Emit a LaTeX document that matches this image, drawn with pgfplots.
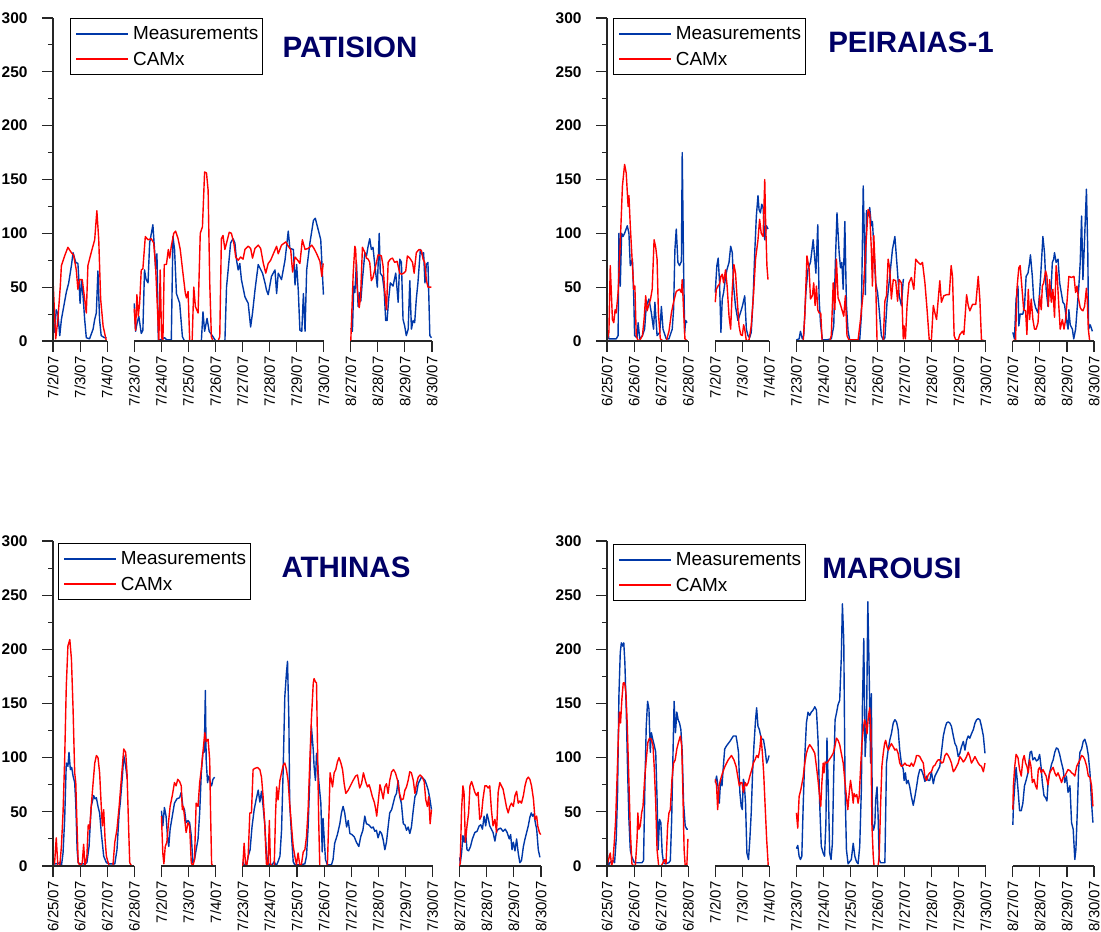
\documentclass[border=0pt]{standalone}
\usepackage{fontspec}
\setmainfont{Liberation Sans}
\usepackage{pgfplots}
\pgfplotsset{compat=1.18}
\definecolor{mblue}{RGB}{0,56,168}
\definecolor{navyt}{RGB}{0,0,102}
\tikzset{
 axisline/.style={draw=black!85, line width=1.2bp},
 blueline/.style={draw=mblue, line width=1.4bp, line join=round},
 redline/.style={draw=red, line width=1.4bp, line join=round},
}
\pgfplotsset{
 panel/.style={
  scale only axis, clip=false, anchor=south west,
  ymin=0, ymax=300, ytick={0,50,...,300}, minor y tick num=1,
  axis line style={draw=none},
  tick align=outside, ytick pos=left, xtick pos=bottom,
  major tick length=11bp, minor tick length=5bp,
  tick style={black!85, line width=1.1bp},
  yticklabel style={font=\bfseries\fontsize{15.5}{15.5}\selectfont},
  yticklabel shift=11bp, xticklabel shift=1bp,
  xticklabel style={rotate=90, anchor=east, font=\fontsize{15}{15}\selectfont},
  /pgf/number format/assume math mode=true,
  unbounded coords=jump,
  legend cell align=left,
  legend image code/.code={\path (0bp,0bp); \draw[##1, line width=1.7bp] (3bp,0bp) -- (55bp,0bp);},
  legend style={anchor=north west, draw=black, fill=white,
    font=\fontsize{19}{19}\selectfont, inner xsep=2bp, inner ysep=6bp, row sep=7bp,
    /tikz/every odd column/.append style={column sep=2bp}},
 },
}
\begin{document}
\begin{tikzpicture}[x=1bp,y=1bp]
\path[use as bounding box] (0,0) rectangle (1101,932);

% ---------------- PATISION ----------------
\begin{axis}[panel, at={(53bp,591bp)}, width=379bp, height=323bp, xmin=0, xmax=14,
  xtick={0,...,14},
  xticklabels={7/2/07,7/3/07,7/4/07,7/23/07,7/24/07,7/25/07,7/26/07,7/27/07,7/28/07,7/29/07,7/30/07,8/27/07,8/28/07,8/29/07,8/30/07},
  legend style={at={(0.045,1)}, line width=1bp}]
\addplot[blueline, no marks] coordinates {
(0,20)(0.06,8)(0.12,29)(0.18,25)(0.25,5)(0.31,20)(0.49,45)(0.58,54)(0.68,70)(0.74,82)(0.84,73)(0.92,72)(0.96,55)(1.0,35)(1.05,56)(1.11,42)(1.17,20)(1.23,3)(1.35,2)(1.48,11)(1.54,20)(1.6,26)(1.66,65)(1.72,20)(1.78,5)(1.9,3)(1.98,3)
(2.5,nan)
(3.0,35)(3.05,9)(3.1,16)(3.17,23)(3.26,7)(3.32,10)(3.38,66)(3.44,57)(3.51,54)(3.57,91)(3.69,108)(3.75,85)(3.79,67)(3.84,81)(3.89,1)(3.96,1)(4.12,3)(4.21,1)(4.37,1)(4.43,97)(4.49,85)(4.56,44)(4.68,35)(4.78,4)(4.86,0)(5.48,0)(5.54,27)(5.6,9)(5.69,21)(5.77,9)(5.91,4)(6.01,0)(6.35,0)(6.41,50)(6.47,66)(6.56,91)(6.65,95)(6.72,91)(6.78,75)(6.84,66)(6.9,72)(6.96,57)(7.09,41)(7.21,35)(7.3,13)(7.37,26)(7.46,47)(7.58,71)(7.74,63)(7.83,54)(7.89,47)(7.95,43)(8.07,60)(8.2,66)(8.26,44)(8.32,63)(8.44,57)(8.57,75)(8.69,102)(8.75,86)(8.88,85)(8.94,52)(9.0,71)(9.06,47)(9.12,10)(9.19,9)(9.25,44)(9.31,9)(9.37,66)(9.49,91)(9.62,112)(9.69,114)(9.8,103)(9.89,94)(9.99,43)
(10.5,nan)
(11.0,12)(11.06,9)(11.11,51)(11.15,45)(11.21,73)(11.27,32)(11.33,45)(11.37,37)(11.43,57)(11.52,82)(11.58,79)(11.64,88)(11.7,95)(11.76,85)(11.82,87)(11.89,70)(11.95,57)(11.98,50)(12.05,100)(12.09,63)(12.17,60)(12.23,48)(12.29,19)(12.34,19)(12.4,39)(12.46,54)(12.56,51)(12.66,63)(12.75,36)(12.81,76)(12.87,73)(12.93,20)(12.99,14)(13.05,5)(13.12,11)(13.18,56)(13.24,11)(13.3,19)(13.36,17)(13.42,39)(13.48,54)(13.57,85)(13.64,80)(13.69,82)(13.74,54)(13.79,71)(13.85,73)(13.92,5)(13.98,3)
};
\addplot[redline, no marks] coordinates {
(0,57)(0.1,2)(0.18,20)(0.27,51)(0.31,70)(0.43,79)(0.55,87)(0.68,82)(0.76,80)(0.86,66)(0.92,48)(0.98,57)(1.08,57)(1.17,39)(1.23,26)(1.29,70)(1.41,82)(1.54,94)(1.62,121)(1.69,94)(1.76,39)(1.85,14)(1.97,0)
(2.5,nan)
(3.0,30)(3.05,10)(3.1,43)(3.15,23)(3.2,35)(3.26,66)(3.32,67)(3.41,97)(3.51,94)(3.63,95)(3.72,91)(3.79,69)(3.86,29)(3.91,0)(3.96,66)(4.01,4)(4.06,0)(4.11,71)(4.19,71)(4.26,85)(4.31,77)(4.37,88)(4.46,100)(4.53,102)(4.62,95)(4.7,85)(4.8,63)(4.89,44)(4.93,40)(4.99,46)(5.05,0)(5.14,0)(5.2,50)(5.26,32)(5.36,26)(5.44,100)(5.52,106)(5.6,157)(5.67,156)(5.73,140)(5.79,54)(5.85,4)(5.91,0)(6.1,0)(6.16,4)(6.22,95)(6.28,98)(6.35,85)(6.41,91)(6.51,101)(6.59,100)(6.68,91)(6.75,78)(6.84,75)(6.93,78)(7.02,76)(7.09,85)(7.21,88)(7.3,86)(7.37,77)(7.46,86)(7.58,89)(7.67,86)(7.77,72)(7.86,63)(7.95,72)(8.04,75)(8.14,81)(8.26,88)(8.32,81)(8.44,89)(8.6,92)(8.69,88)(8.78,85)(8.85,64)(8.94,78)(9.04,75)(9.12,72)(9.21,94)(9.31,85)(9.43,86)(9.56,89)(9.64,86)(9.74,81)(9.86,74)(9.93,60)(9.98,72)
(10.5,nan)
(11,0)(11.09,63)(11.15,88)(11.18,85)(11.23,51)(11.31,31)(11.36,40)(11.43,87)(11.52,82)(11.58,77)(11.64,76)(11.7,73)(11.76,56)(11.82,59)(11.92,70)(12.01,80)(12.13,79)(12.19,70)(12.25,48)(12.32,29)(12.38,73)(12.46,76)(12.54,77)(12.62,73)(12.71,74)(12.81,63)(12.87,62)(12.96,63)(13.03,65)(13.09,79)(13.18,77)(13.28,73)(13.34,63)(13.42,82)(13.52,85)(13.61,84)(13.67,76)(13.73,73)(13.79,57)(13.85,50)(13.98,50)
};
\legend{Measurements,CAMx}
\draw[axisline] (axis cs:0,0) -- (axis cs:0,300);
\draw[axisline] (axis cs:0,0) -- (axis cs:2,0);
\draw[axisline] (axis cs:3,0) -- (axis cs:10,0);
\draw[axisline] (axis cs:11,0) -- (axis cs:14,0);
\end{axis}

% ---------------- PEIRAIAS-1 ----------------
\begin{axis}[panel, at={(607bp,591bp)}, width=487bp, height=323bp, xmin=0, xmax=18,
  xtick={0,...,18},
  xticklabels={6/25/07,6/26/07,6/27/07,6/28/07,7/2/07,7/3/07,7/4/07,7/23/07,7/24/07,7/25/07,7/26/07,7/27/07,7/28/07,7/29/07,7/30/07,8/27/07,8/28/07,8/29/07,8/30/07},
  legend style={at={(0.012,1.0)}, line width=1bp}]
\addplot[blueline, no marks] coordinates {
(0,2)(0.04,8)(0.07,2)(0.16,2)(0.34,2)(0.41,5)(0.44,100)(0.49,51)(0.54,100)(0.59,97)(0.65,100)(0.75,107)(0.81,100)(0.86,70)(0.94,76)(0.99,39)(1.02,5)(1.11,3)(1.15,17)(1.21,2)(1.31,5)(1.39,11)(1.45,32)(1.55,39)(1.64,26)(1.72,11)(1.77,36)(1.85,5)(1.95,8)(2.01,32)(2.07,11)(2.19,2)(2.29,2)(2.41,11)(2.46,29)(2.51,85)(2.56,104)(2.62,73)(2.68,70)(2.75,74)(2.78,175)(2.83,70)(2.87,8)(2.91,19)(2.96,17)
(3.5,nan)
(4,45)(4.06,70)(4.11,77)(4.16,54)(4.21,8)(4.26,39)(4.31,45)(4.37,57)(4.43,66)(4.51,73)(4.57,88)(4.63,82)(4.68,51)(4.75,32)(4.84,19)(4.93,26)(5.0,32)(5.09,42)(5.15,11)(5.21,5)(5.27,3)(5.33,8)(5.4,39)(5.46,82)(5.52,116)(5.58,135)(5.62,122)(5.67,119)(5.72,127)(5.77,124)(5.83,94)(5.89,107)(5.95,104)
(6.5,nan)
(7,1)(7.1,2)(7.15,9)(7.22,2)(7.27,5)(7.35,45)(7.43,67)(7.52,73)(7.62,94)(7.68,76)(7.72,63)(7.79,108)(7.84,39)(7.89,17)(7.96,1)(8.11,1)(8.29,2)(8.38,14)(8.44,73)(8.5,119)(8.58,82)(8.63,68)(8.68,73)(8.73,48)(8.79,111)(8.85,33)(8.91,9)(8.97,1)(9.34,1)(9.4,23)(9.47,144)(9.52,85)(9.55,43)(9.59,121)(9.65,116)(9.71,124)(9.77,107)(9.81,111)(9.86,88)(9.93,54)(10.0,45)(10.06,29)(10.14,5)(10.21,1)(10.27,3)(10.35,36)(10.45,60)(10.55,85)(10.64,97)(10.72,70)(10.8,42)(10.88,33)(10.95,57)(10.98,57)
(14.5,nan)
(15,8)(15.06,2)(15.12,39)(15.19,51)(15.22,14)(15.27,25)(15.37,25)(15.43,32)(15.49,60)(15.56,63)(15.62,73)(15.65,80)(15.72,60)(15.77,39)(15.84,31)(15.93,26)(15.99,45)(16.05,70)(16.11,97)(16.17,82)(16.23,48)(16.3,32)(16.33,45)(16.4,42)(16.46,73)(16.51,76)(16.54,82)(16.6,73)(16.67,76)(16.73,54)(16.79,45)(16.85,36)(16.91,34)(16.98,20)(17.04,11)(17.07,29)(17.12,15)(17.2,11)(17.25,2)(17.32,11)(17.37,28)(17.44,51)(17.49,73)(17.54,116)(17.59,57)(17.65,94)(17.72,141)(17.77,82)(17.8,11)(17.86,15)(17.94,9)
};
\addplot[redline, no marks] coordinates {
(0,0)(0.07,8)(0.12,70)(0.2,20)(0.25,17)(0.3,29)(0.34,26)(0.41,45)(0.49,91)(0.57,144)(0.65,164)(0.71,156)(0.78,125)(0.81,135)(0.86,107)(0.94,70)(0.99,48)(1.03,51)(1.08,5)(1.15,0)(1.22,1)(1.31,5)(1.37,20)(1.43,42)(1.48,28)(1.55,34)(1.61,39)(1.67,48)(1.74,94)(1.8,87)(1.85,76)(1.9,26)(1.97,2)(2.07,0)(2.19,0)(2.29,9)(2.38,26)(2.46,36)(2.56,46)(2.68,48)(2.75,45)(2.78,57)(2.83,29)(2.88,2)(2.96,0)
(3.5,nan)
(4,36)(4.04,48)(4.1,51)(4.16,53)(4.21,60)(4.26,62)(4.31,54)(4.38,66)(4.44,51)(4.51,23)(4.57,11)(4.63,48)(4.69,71)(4.75,63)(4.81,39)(4.88,14)(4.94,6)(5.0,5)(5.05,15)(5.09,11)(5.15,0)(5.25,1)(5.33,14)(5.42,45)(5.49,76)(5.58,94)(5.64,113)(5.7,100)(5.77,97)(5.83,150)(5.86,113)(5.91,70)(5.95,57)
(6.5,nan)
(7,0)(7.25,0)(7.31,23)(7.39,79)(7.47,67)(7.52,39)(7.59,42)(7.64,54)(7.69,33)(7.74,51)(7.79,29)(7.84,26)(7.9,26)(7.95,0)(8.23,0)(8.29,5)(8.36,54)(8.42,29)(8.48,76)(8.54,40)(8.6,36)(8.66,31)(8.75,23)(8.81,42)(8.87,5)(8.94,1)(9.28,1)(9.37,20)(9.47,45)(9.56,85)(9.65,122)(9.71,119)(9.77,85)(9.81,51)(9.86,98)(9.93,57)(9.98,0)(10.21,0)(10.27,37)(10.33,42)(10.39,76)(10.45,67)(10.51,39)(10.58,57)(10.67,56)(10.74,37)(10.8,57)(10.88,54)(10.95,2)(10.98,14)(11.03,2)(11.09,33)(11.16,54)(11.25,59)(11.34,48)(11.41,76)(11.5,73)(11.59,71)(11.66,73)(11.75,54)(11.83,29)(11.91,1)(11.99,1)(12.06,33)(12.12,26)(12.18,20)(12.3,56)(12.36,36)(12.45,42)(12.55,43)(12.65,43)(12.72,70)(12.77,60)(12.83,5)(12.89,1)(12.98,1)(13.04,6)(13.14,9)(13.19,6)(13.29,43)(13.35,33)(13.41,28)(13.51,34)(13.63,34)(13.72,60)(13.78,39)(13.84,1)(14.0,0)
(14.5,nan)
(15,0)(15.1,1)(15.15,48)(15.22,68)(15.27,70)(15.35,45)(15.4,29)(15.47,28)(15.52,6)(15.57,48)(15.62,20)(15.68,39)(15.74,20)(15.8,11)(15.86,11)(15.93,17)(15.99,42)(16.05,29)(16.09,51)(16.14,54)(16.21,65)(16.26,60)(16.31,32)(16.36,57)(16.42,36)(16.48,48)(16.54,22)(16.6,70)(16.64,60)(16.7,32)(16.75,11)(16.83,20)(16.89,11)(16.95,20)(17.01,39)(17.07,60)(17.16,59)(17.26,60)(17.32,45)(17.37,51)(17.43,39)(17.49,31)(17.54,29)(17.59,28)(17.65,32)(17.72,49)(17.75,39)(17.79,11)(17.84,0)(17.94,0)
};
\legend{Measurements,CAMx}
\draw[axisline] (axis cs:0,0) -- (axis cs:0,300);
\draw[axisline] (axis cs:0,0) -- (axis cs:3,0);
\draw[axisline] (axis cs:4,0) -- (axis cs:6,0);
\draw[axisline] (axis cs:7,0) -- (axis cs:14,0);
\draw[axisline] (axis cs:15,0) -- (axis cs:18,0);
\end{axis}

% ---------------- ATHINAS ----------------
\begin{axis}[panel, at={(53bp,66bp)}, width=488bp, height=325bp, xmin=0, xmax=18,
  xtick={0,...,18},
  xticklabels={6/25/07,6/26/07,6/27/07,6/28/07,7/2/07,7/3/07,7/4/07,7/23/07,7/24/07,7/25/07,7/26/07,7/27/07,7/28/07,7/29/07,7/30/07,8/27/07,8/28/07,8/29/07,8/30/07},
  legend style={at={(0.01,0.994)}, line width=1bp}]
\addplot[blueline, no marks] coordinates {
(0,2)(0.12,2)(0.25,3)(0.31,0)(0.37,12)(0.43,43)(0.49,95)(0.55,92)(0.59,105)(0.64,89)(0.69,91)(0.74,83)(0.8,77)(0.84,58)(0.89,15)(0.93,3)(1.01,2)(1.17,2)(1.25,3)(1.33,18)(1.41,55)(1.5,65)(1.55,62)(1.6,63)(1.66,55)(1.72,49)(1.78,31)(1.87,9)(1.97,3)(2.09,2)(2.28,2)(2.36,15)(2.44,49)(2.48,58)(2.56,83)(2.61,102)(2.68,92)(2.74,80)
(3.5,nan)
(4,51)(4.05,37)(4.11,54)(4.17,46)(4.23,25)(4.27,18)(4.32,34)(4.4,46)(4.48,58)(4.57,62)(4.67,63)(4.73,68)(4.79,55)(4.85,52)(4.91,40)(4.98,42)(5.04,40)(5.1,28)(5.16,3)(5.22,6)(5.28,15)(5.35,25)(5.41,49)(5.47,86)(5.53,105)(5.58,105)(5.62,162)(5.65,98)(5.7,77)(5.75,83)(5.8,77)(5.85,74)(5.9,80)(5.96,82)
(6.5,nan)
(7,4)(7.07,0)(7.15,2)(7.2,9)(7.27,15)(7.34,36)(7.42,52)(7.49,61)(7.57,70)(7.63,59)(7.69,69)(7.75,55)(7.81,39)(7.87,13)(7.93,1)(8.01,2)(8.08,1)(8.16,4)(8.23,0)(8.3,4)(8.37,9)(8.43,33)(8.49,89)(8.55,156)(8.61,178)(8.65,189)(8.7,135)(8.73,58)(8.8,27)(8.86,4)(8.92,1)(9.1,1)(9.29,2)(9.35,9)(9.41,36)(9.47,79)(9.53,129)(9.6,107)(9.63,92)(9.68,79)(9.72,104)(9.76,95)(9.8,79)(9.88,58)(9.93,13)(9.96,44)(10.0,27)(10.05,6)(10.12,1)(10.27,1)(10.33,6)(10.39,21)(10.49,29)(10.58,39)(10.64,49)(10.7,55)(10.76,49)(10.83,36)(10.89,42)(10.95,30)(11.03,29)(11.11,27)(11.19,22)(11.28,18)(11.35,27)(11.43,33)(11.5,46)(11.56,39)(11.65,38)(11.75,35)(11.81,36)(11.87,32)(11.93,33)(11.99,26)(12.06,32)(12.12,30)(12.18,24)(12.24,15)(12.3,22)(12.36,36)(12.42,49)(12.49,52)(12.55,58)(12.61,64)(12.67,67)(12.73,79)(12.79,64)(12.85,58)(12.92,39)(12.98,38)(13.04,33)(13.1,36)(13.16,30)(13.22,36)(13.29,52)(13.35,64)(13.41,67)(13.47,76)(13.53,79)(13.59,82)(13.65,81)(13.72,79)(13.78,75)(13.84,70)(13.9,62)(13.96,52)
(14.5,nan)
(15,8)(15.02,2)(15.07,12)(15.12,28)(15.17,22)(15.22,31)(15.27,15)(15.33,14)(15.4,18)(15.47,25)(15.56,31)(15.64,32)(15.72,37)(15.78,38)(15.84,34)(15.9,46)(15.96,37)(16.01,48)(16.06,43)(16.11,37)(16.17,34)(16.23,31)(16.3,23)(16.36,32)(16.43,34)(16.51,35)(16.6,32)(16.68,34)(16.75,31)(16.83,25)(16.88,29)(16.93,15)(16.98,22)(17.04,14)(17.1,25)(17.16,12)(17.22,3)(17.28,5)(17.35,18)(17.41,25)(17.47,31)(17.53,37)(17.59,45)(17.64,49)(17.69,46)(17.74,48)(17.79,40)(17.84,34)(17.9,15)(17.96,8)
};
\addplot[redline, no marks] coordinates {
(0,0)(0.06,3)(0.12,26)(0.18,0)(0.25,0)(0.31,18)(0.37,49)(0.43,98)(0.49,166)(0.55,203)(0.62,209)(0.68,191)(0.74,145)(0.8,86)(0.84,77)(0.89,34)(0.93,3)(1.01,0)(1.08,3)(1.13,20)(1.18,0)(1.25,9)(1.3,38)(1.35,34)(1.41,55)(1.48,77)(1.54,95)(1.6,102)(1.66,100)(1.72,86)(1.78,55)(1.82,37)(1.87,52)(1.92,25)(1.97,9)(2.07,0)(2.21,0)(2.28,22)(2.36,34)(2.44,55)(2.52,80)(2.61,108)(2.68,105)(2.73,86)(2.78,43)(2.83,3)(2.9,0)(2.99,0)
(3.5,nan)
(4,46)(4.05,12)(4.09,2)(4.14,18)(4.2,22)(4.26,40)(4.32,55)(4.4,65)(4.48,77)(4.54,74)(4.6,80)(4.67,78)(4.73,74)(4.77,52)(4.81,55)(4.86,43)(4.91,31)(4.98,40)(5.04,37)(5.1,3)(5.16,0)(5.22,6)(5.28,58)(5.35,55)(5.41,77)(5.47,89)(5.53,105)(5.6,123)(5.65,115)(5.72,117)(5.78,98)(5.81,52)(5.85,2)(5.9,0)(5.96,0)
(6.5,nan)
(7,0)(7.05,21)(7.1,2)(7.15,1)(7.2,10)(7.26,49)(7.32,49)(7.38,89)(7.44,90)(7.54,91)(7.63,89)(7.69,82)(7.75,64)(7.81,39)(7.87,2)(7.93,0)(7.98,42)(8.02,2)(8.08,0)(8.16,0)(8.21,49)(8.25,73)(8.3,61)(8.37,79)(8.43,86)(8.49,93)(8.55,95)(8.61,89)(8.67,79)(8.73,58)(8.8,36)(8.86,18)(8.92,9)(8.98,1)(9.04,12)(9.1,1)(9.16,1)(9.23,13)(9.29,15)(9.35,27)(9.41,52)(9.47,95)(9.53,135)(9.6,169)(9.63,173)(9.68,170)(9.72,169)(9.76,104)(9.8,42)(9.84,0)(9.96,0)(10.12,0)(10.19,58)(10.22,86)(10.27,79)(10.31,73)(10.37,86)(10.43,89)(10.49,96)(10.55,100)(10.62,95)(10.68,89)(10.74,76)(10.8,67)(10.89,70)(10.99,75)(11.07,79)(11.16,83)(11.23,84)(11.31,72)(11.38,76)(11.45,86)(11.53,78)(11.6,73)(11.66,75)(11.72,70)(11.78,64)(11.85,59)(11.9,53)(11.94,46)(11.99,58)(12.06,75)(12.12,69)(12.18,62)(12.24,73)(12.3,76)(12.36,67)(12.42,79)(12.49,87)(12.56,89)(12.63,86)(12.71,79)(12.78,67)(12.85,61)(12.92,62)(12.98,70)(13.04,73)(13.1,79)(13.16,87)(13.22,86)(13.29,79)(13.35,67)(13.41,76)(13.47,82)(13.54,84)(13.62,82)(13.69,78)(13.75,61)(13.81,55)(13.86,64)(13.91,39)(13.96,52)
(14.5,nan)
(15,0)(15.02,3)(15.07,52)(15.12,74)(15.16,68)(15.21,22)(15.27,37)(15.33,49)(15.38,74)(15.44,78)(15.49,74)(15.56,68)(15.62,65)(15.68,68)(15.74,43)(15.8,46)(15.86,62)(15.93,74)(15.99,74)(16.05,72)(16.11,74)(16.17,52)(16.23,37)(16.3,43)(16.36,31)(16.42,68)(16.48,77)(16.54,74)(16.6,71)(16.67,62)(16.73,54)(16.79,49)(16.85,55)(16.91,58)(16.98,55)(17.04,65)(17.1,69)(17.16,58)(17.22,60)(17.28,58)(17.35,65)(17.41,74)(17.47,80)(17.53,82)(17.59,80)(17.65,74)(17.72,62)(17.78,43)(17.84,46)(17.88,37)(17.94,31)(17.99,29)
};
\legend{Measurements,CAMx}
\draw[axisline] (axis cs:0,0) -- (axis cs:0,300);
\draw[axisline] (axis cs:0,0) -- (axis cs:3,0);
\draw[axisline] (axis cs:4,0) -- (axis cs:6,0);
\draw[axisline] (axis cs:7,0) -- (axis cs:14,0);
\draw[axisline] (axis cs:15,0) -- (axis cs:18,0);
\end{axis}

% ---------------- MAROUSI ----------------
\begin{axis}[panel, at={(607bp,66bp)}, width=487bp, height=325bp, xmin=0, xmax=18,
  xtick={0,...,18},
  xticklabels={6/25/07,6/26/07,6/27/07,6/28/07,7/2/07,7/3/07,7/4/07,7/23/07,7/24/07,7/25/07,7/26/07,7/27/07,7/28/07,7/29/07,7/30/07,8/27/07,8/28/07,8/29/07,8/30/07},
  legend style={at={(0.012,0.991)}, line width=1bp}]
\addplot[blueline, no marks] coordinates {
(0,20)(0.04,0)(0.1,3)(0.22,5)(0.28,3)(0.34,25)(0.39,68)(0.44,157)(0.49,197)(0.53,206)(0.58,203)(0.62,206)(0.66,188)(0.71,145)(0.76,89)(0.81,43)(0.86,15)(0.91,9)(0.96,6)(1.01,3)(1.11,3)(1.29,3)(1.35,5)(1.4,74)(1.45,129)(1.5,152)(1.55,145)(1.6,105)(1.64,123)(1.69,117)(1.75,111)(1.8,105)(1.85,62)(1.89,15)(1.94,43)(1.99,40)(2.04,12)(2.09,3)(2.15,2)(2.28,3)(2.34,5)(2.39,43)(2.44,105)(2.48,152)(2.53,123)(2.58,142)(2.63,135)(2.68,132)(2.73,126)(2.78,105)(2.83,58)(2.89,37)(2.95,34)(2.99,34)
(3.5,nan)
(4,77)(4.05,83)(4.1,74)(4.15,58)(4.2,80)(4.25,74)(4.3,92)(4.35,108)(4.42,111)(4.54,115)(4.67,120)(4.77,120)(4.81,114)(4.86,105)(4.91,68)(4.96,55)(5.0,52)(5.04,80)(5.07,77)(5.12,58)(5.17,12)(5.23,6)(5.28,25)(5.33,49)(5.38,86)(5.43,111)(5.49,135)(5.53,146)(5.58,129)(5.63,126)(5.68,120)(5.73,117)(5.78,117)(5.84,108)(5.9,95)(5.95,98)(5.99,102)
(6.5,nan)
(7,16)(7.05,19)(7.1,9)(7.15,6)(7.2,9)(7.25,55)(7.31,101)(7.37,132)(7.43,142)(7.49,139)(7.55,142)(7.62,144)(7.68,147)(7.74,144)(7.8,116)(7.86,58)(7.92,18)(7.99,12)(8.04,9)(8.09,39)(8.13,118)(8.18,70)(8.23,12)(8.28,6)(8.33,21)(8.38,86)(8.43,135)(8.48,141)(8.54,149)(8.6,153)(8.66,193)(8.7,242)(8.75,209)(8.8,70)(8.85,15)(8.91,2)(8.97,4)(9.03,6)(9.1,21)(9.16,9)(9.22,4)(9.28,2)(9.34,18)(9.4,70)(9.44,147)(9.49,210)(9.54,101)(9.59,126)(9.64,244)(9.69,178)(9.74,95)(9.77,159)(9.81,39)(9.85,33)(9.9,39)(9.93,61)(9.98,73)(10.02,46)(10.06,6)(10.11,3)(10.27,3)(10.33,95)(10.39,107)(10.45,116)(10.51,122)(10.58,132)(10.64,135)(10.7,133)(10.76,126)(10.82,107)(10.88,95)(10.95,89)(10.98,79)(11.03,86)(11.07,76)(11.13,79)(11.19,73)(11.25,64)(11.32,56)(11.38,64)(11.44,73)(11.5,83)(11.56,89)(11.62,89)(11.69,84)(11.75,78)(11.81,83)(11.87,79)(11.93,79)(11.99,87)(12.06,76)(12.12,83)(12.18,86)(12.24,89)(12.3,92)(12.37,107)(12.43,120)(12.49,127)(12.55,132)(12.61,133)(12.67,132)(12.73,129)(12.8,120)(12.86,113)(12.92,110)(12.98,101)(13.04,104)(13.1,110)(13.17,115)(13.23,107)(13.29,116)(13.35,120)(13.41,118)(13.47,122)(13.54,126)(13.6,132)(13.66,135)(13.72,136)(13.78,135)(13.84,129)(13.91,120)(13.97,104)
(14.5,nan)
(15,38)(15.02,55)(15.07,74)(15.12,91)(15.19,71)(15.25,51)(15.31,51)(15.37,58)(15.43,74)(15.5,80)(15.56,86)(15.59,95)(15.64,105)(15.69,106)(15.74,98)(15.81,100)(15.87,97)(15.93,98)(15.99,103)(16.04,92)(16.09,77)(16.15,65)(16.21,63)(16.26,60)(16.31,80)(16.36,86)(16.43,94)(16.49,98)(16.55,105)(16.61,109)(16.67,108)(16.73,103)(16.8,95)(16.86,89)(16.92,77)(16.98,83)(17.04,68)(17.11,74)(17.17,40)(17.23,34)(17.29,6)(17.33,15)(17.38,49)(17.43,89)(17.48,105)(17.54,108)(17.6,115)(17.66,117)(17.73,111)(17.79,102)(17.85,86)(17.91,58)(17.96,40)
};
\addplot[redline, no marks] coordinates {
(0,0)(0.06,6)(0.12,12)(0.17,0)(0.22,5)(0.27,22)(0.32,43)(0.37,80)(0.42,120)(0.46,142)(0.5,132)(0.55,154)(0.6,169)(0.65,169)(0.7,160)(0.75,129)(0.8,86)(0.86,34)(0.92,2)(0.98,0)(1.05,1)(1.11,25)(1.14,49)(1.18,34)(1.23,37)(1.28,49)(1.33,55)(1.39,80)(1.45,98)(1.51,114)(1.57,118)(1.64,117)(1.7,111)(1.75,89)(1.8,58)(1.85,15)(1.91,0)(2.0,0)(2.07,3)(2.13,6)(2.18,2)(2.24,37)(2.29,49)(2.34,52)(2.4,80)(2.46,95)(2.52,98)(2.58,108)(2.64,114)(2.71,120)(2.76,111)(2.8,74)(2.85,15)(2.89,0)(2.95,0)(2.99,25)
(3.5,nan)
(4,80)(4.05,74)(4.09,52)(4.14,74)(4.2,80)(4.27,86)(4.36,92)(4.48,98)(4.6,102)(4.69,98)(4.77,92)(4.81,86)(4.89,74)(4.94,77)(4.99,77)(5.04,68)(5.11,77)(5.16,74)(5.22,77)(5.28,83)(5.35,89)(5.41,95)(5.47,98)(5.53,102)(5.59,100)(5.65,108)(5.69,120)(5.74,105)(5.79,86)(5.84,58)(5.9,25)(5.96,0)
(6.5,nan)
(7,49)(7.05,35)(7.1,64)(7.16,70)(7.25,82)(7.31,95)(7.37,104)(7.43,109)(7.49,112)(7.55,110)(7.62,107)(7.68,104)(7.74,92)(7.8,79)(7.86,64)(7.9,55)(7.94,76)(7.99,95)(8.02,86)(8.06,96)(8.13,95)(8.21,98)(8.29,101)(8.36,104)(8.42,110)(8.48,118)(8.54,116)(8.6,112)(8.66,104)(8.73,95)(8.79,79)(8.85,64)(8.9,52)(8.95,67)(9.0,79)(9.05,70)(9.1,58)(9.13,67)(9.18,64)(9.23,66)(9.28,58)(9.32,64)(9.37,89)(9.42,113)(9.47,126)(9.52,135)(9.56,132)(9.61,122)(9.66,138)(9.71,146)(9.75,126)(9.79,39)(9.84,9)(9.87,0)(10.02,0)(10.06,9)(10.11,55)(10.16,92)(10.21,104)(10.26,113)(10.3,116)(10.35,110)(10.4,107)(10.45,110)(10.51,113)(10.58,110)(10.64,107)(10.7,108)(10.76,104)(10.82,95)(10.88,92)(10.95,93)(11.01,95)(11.07,93)(11.13,93)(11.19,92)(11.25,95)(11.32,92)(11.38,96)(11.44,102)(11.5,102)(11.56,101)(11.62,98)(11.69,95)(11.75,82)(11.81,79)(11.87,84)(11.93,86)(11.99,87)(12.06,92)(12.12,93)(12.18,96)(12.24,98)(12.3,98)(12.37,95)(12.43,96)(12.49,102)(12.55,104)(12.61,102)(12.67,99)(12.73,95)(12.8,87)(12.86,89)(12.92,92)(12.98,95)(13.04,101)(13.1,99)(13.17,96)(13.23,98)(13.29,101)(13.35,105)(13.41,101)(13.47,95)(13.54,98)(13.6,101)(13.66,98)(13.72,95)(13.78,93)(13.84,92)(13.91,87)(13.97,95)
(14.5,nan)
(15,52)(15.02,74)(15.07,92)(15.12,103)(15.19,100)(15.25,89)(15.31,83)(15.37,98)(15.42,102)(15.47,95)(15.52,92)(15.57,86)(15.62,98)(15.67,92)(15.72,77)(15.78,80)(15.84,74)(15.89,71)(15.94,89)(15.99,91)(16.05,86)(16.11,89)(16.17,86)(16.23,83)(16.3,75)(16.36,86)(16.43,89)(16.49,91)(16.55,86)(16.61,83)(16.67,86)(16.73,82)(16.8,77)(16.86,82)(16.92,83)(16.98,86)(17.04,89)(17.11,88)(17.17,86)(17.23,85)(17.29,83)(17.36,92)(17.42,95)(17.48,98)(17.54,102)(17.6,101)(17.66,98)(17.73,92)(17.79,83)(17.85,82)(17.91,74)(17.96,55)
};
\legend{Measurements,CAMx}
\draw[axisline] (axis cs:0,0) -- (axis cs:0,300);
\draw[axisline] (axis cs:0,0) -- (axis cs:3,0);
\draw[axisline] (axis cs:4,0) -- (axis cs:6,0);
\draw[axisline] (axis cs:7,0) -- (axis cs:14,0);
\draw[axisline] (axis cs:15,0) -- (axis cs:18,0);
\end{axis}

\node[font=\bfseries\fontsize{29.6}{30}\selectfont, text=navyt] at (350,885) {PATISION};
\node[font=\bfseries\fontsize{29.6}{30}\selectfont, text=navyt] at (911,890) {PEIRAIAS-1};
\node[font=\bfseries\fontsize{29.6}{30}\selectfont, text=navyt] at (346,365) {ATHINAS};
\node[font=\bfseries\fontsize{29.6}{30}\selectfont, text=navyt] at (892,364) {MAROUSI};
\end{tikzpicture}
\end{document}
